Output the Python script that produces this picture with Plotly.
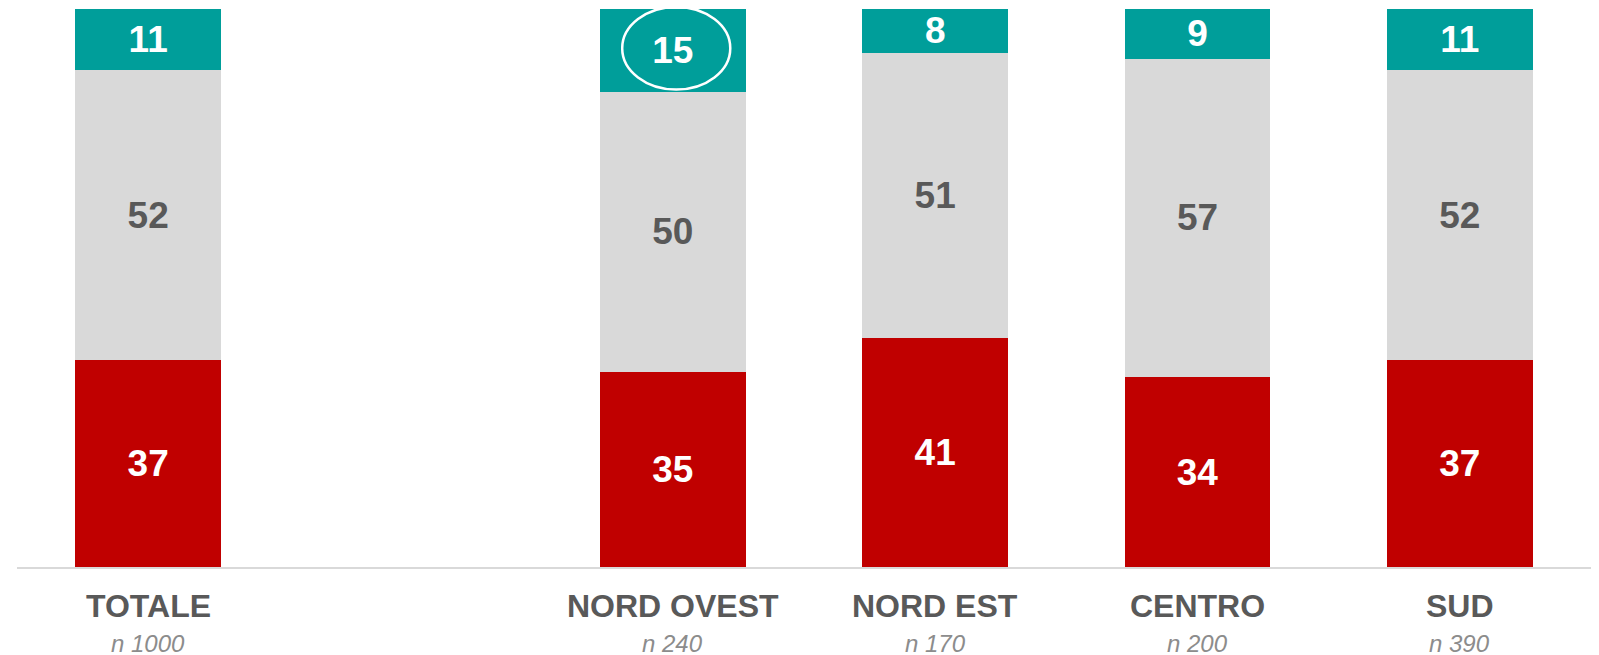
import plotly.graph_objects as go

# Regions (a blank slot separates the total from the regional breakdown)
categories = ["TOTALE", " ", "NORD OVEST", "NORD EST", "CENTRO", "SUD"]
sample_sizes = ["n 1000", "", "n 240", "n 170", "n 200", "n 390"]

# Percentages per stacked segment (bottom to top)
red_values = [37, None, 35, 41, 34, 37]
grey_values = [52, None, 50, 51, 57, 52]
teal_values = [11, None, 15, 8, 9, 11]

RED = "#C00000"
GREY = "#D9D9D9"
TEAL = "#009E9A"
FONT = "Liberation Sans, Arial, sans-serif"

fig = go.Figure()
for vals, color, txt_color in [
    (red_values, RED, "white"),
    (grey_values, GREY, "#595959"),
    (teal_values, TEAL, "white"),
]:
    fig.add_trace(go.Bar(
        x=categories,
        y=vals,
        width=0.555,
        marker=dict(color=color, line=dict(width=0)),
        text=[("" if v is None else f"<b>{v}</b>") for v in vals],
        textposition="inside",
        insidetextanchor="middle",
        textangle=0,
        textfont=dict(family=FONT, size=37, color=txt_color),
        constraintext="none",
        hoverinfo="skip",
        showlegend=False,
    ))

# Category names and sample sizes below the axis
annotations = []
for cat, n in zip(categories, sample_sizes):
    if not cat.strip():
        continue
    annotations.append(dict(
        x=cat, y=0, xref="x", yref="paper", yanchor="middle",
        yshift=-39, showarrow=False,
        text=f"<b>{cat}</b>",
        font=dict(family=FONT, size=32, color="#595959"),
    ))
    annotations.append(dict(
        x=cat, y=0, xref="x", yref="paper", yanchor="middle",
        yshift=-76, showarrow=False,
        text=f"<i>{n}</i>",
        font=dict(family=FONT, size=24, color="#8C8C8C"),
    ))

# Highlight ring around the NORD OVEST top segment
nw = categories.index("NORD OVEST")
fig.add_shape(
    type="circle", xref="x", yref="y",
    x0=nw - 0.193, x1=nw + 0.219, y0=85.5, y1=100.3,
    line=dict(color="white", width=2.5), layer="above",
)

fig.update_layout(
    barmode="stack",
    width=1599, height=655,
    margin=dict(l=17, r=8, t=3, b=88),
    plot_bgcolor="white", paper_bgcolor="white",
    uniformtext=dict(minsize=37, mode="show"),
    annotations=annotations,
    xaxis=dict(
        type="category", categoryorder="array", categoryarray=categories,
        range=[-0.5, 5.5], showticklabels=False, showgrid=False,
        showline=True, linecolor="#D9D9D9", linewidth=2, ticks="",
        zeroline=False, fixedrange=True,
    ),
    yaxis=dict(
        range=[0, 101], visible=False, showgrid=False, zeroline=False,
        fixedrange=True,
    ),
)

fig.write_html("out.html")
